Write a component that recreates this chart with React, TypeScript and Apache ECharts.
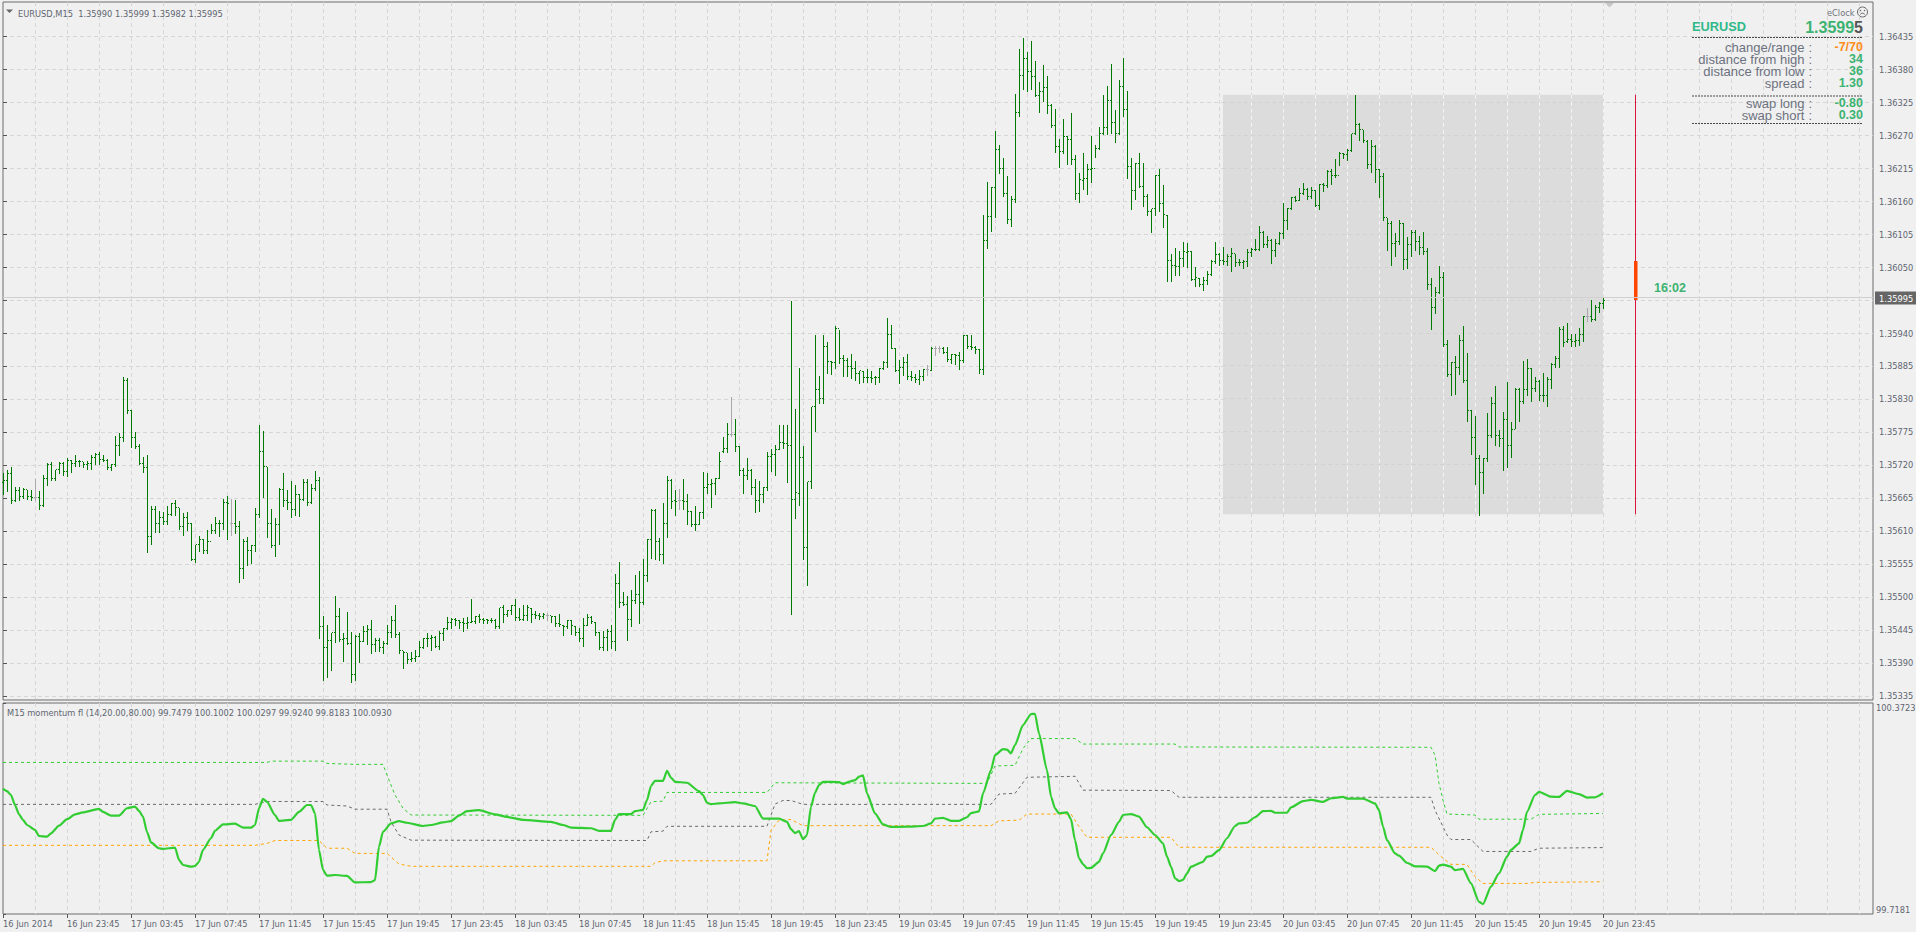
import React, { useEffect, useRef } from "react";
import * as echarts from "echarts";

// Prices are stored as points (1e-5) above basePrice.
const basePrice = 1.35;
const priceTicks = [1.36435,1.3638,1.36325,1.3627,1.36215,1.3616,1.36105,1.3605,1.35995,1.3594,1.35885,1.3583,1.35775,1.3572,1.35665,1.3561,1.35555,1.355,1.35445,1.3539,1.35335];
const momentumTicks = [99.7181, 100.3723];
const timeLabels = ["16 Jun 2014","16 Jun 23:45","17 Jun 03:45","17 Jun 07:45","17 Jun 11:45","17 Jun 15:45","17 Jun 19:45","17 Jun 23:45","18 Jun 03:45","18 Jun 07:45","18 Jun 11:45","18 Jun 15:45","18 Jun 19:45","18 Jun 23:45","19 Jun 03:45","19 Jun 07:45","19 Jun 11:45","19 Jun 15:45","19 Jun 19:45","19 Jun 23:45","20 Jun 03:45","20 Jun 07:45","20 Jun 11:45","20 Jun 15:45","20 Jun 19:45","20 Jun 23:45"];

const opens = [
690,694,706,660,677,667,679,667,666,666,
652,698,721,697,712,723,709,728,722,726,
725,720,722,733,737,729,728,715,721,752,
765,860,811,765,750,722,715,600,646,622,
633,625,637,656,649,617,632,623,563,587,
596,577,592,610,623,622,658,623,623,617,
548,592,577,586,637,743,717,622,585,620,
679,661,657,646,670,662,691,658,680,694,
450,415,427,440,467,429,430,423,370,434,
426,443,445,421,427,415,422,440,461,437,
410,407,396,398,400,415,430,431,433,417,
439,447,457,463,461,458,456,458,459,468,
463,462,460,461,450,482,471,477,486,466,
462,469,481,471,469,467,469,469,467,456,
453,451,461,451,441,430,453,465,458,440,
416,433,442,425,522,490,487,463,494,504,
490,536,596,644,593,571,622,694,660,661,
661,659,642,620,621,640,683,687,689,698,
742,747,771,771,751,711,702,711,683,661,
671,682,734,738,746,757,755,752,662,672,
732,582,692,817,845,830,917,892,891,947,
898,894,884,880,872,876,866,865,865,866,
880,890,937,915,877,883,890,867,865,863,
868,879,878,914,914,914,908,895,904,902,
894,936,918,916,912,879,1094,1134,1182,1246,
1215,1173,1129,1162,1307,1369,1397,1376,1368,1336,
1342,1350,1319,1286,1251,1242,1267,1263,1230,1172,
1195,1197,1212,1215,1248,1272,1282,1328,1291,1273,
1351,1312,1217,1178,1223,1184,1168,1143,1147,1202,
1156,1136,1061,1052,1051,1065,1075,1076,1029,1031,
1021,1028,1038,1059,1071,1061,1059,1067,1072,1058,
1057,1060,1075,1079,1080,1108,1087,1095,1077,1089,
1106,1127,1148,1166,1161,1173,1180,1167,1177,1152,
1188,1186,1210,1203,1202,1239,1237,1244,1272,1288,
1279,1260,1221,1251,1212,1201,1132,1123,1090,1093,
1123,1062,1087,1107,1092,1082,1076,1021,982,1008,
1032,921,871,891,882,927,861,811,765,730,
708,731,769,823,769,764,795,752,779,846,
826,846,881,847,859,836,835,862,887,898,
946,926,930,926,927,938,968,967,963,983,990];

const highs = [
707,712,717,684,683,681,679,678,696,677,
703,723,725,712,725,725,731,728,737,728,
725,727,736,740,742,737,730,722,769,773,
867,865,812,775,755,733,736,651,652,644,
642,651,657,662,649,640,642,623,587,602,
597,611,621,634,628,664,668,664,662,627,
597,600,587,648,786,777,717,647,631,682,
706,679,694,687,671,697,697,689,710,700,
469,454,440,502,481,440,475,441,437,440,
451,454,461,432,432,426,454,469,486,442,
410,407,409,411,427,432,440,436,435,444,
448,467,465,465,461,465,467,496,468,471,
465,463,465,463,482,486,479,486,496,482,
486,486,482,476,473,473,473,469,468,472,
454,462,462,451,448,465,472,468,459,441,
443,447,454,538,559,508,501,512,536,544,
563,596,647,647,598,657,701,697,678,680,
696,671,643,652,641,708,707,696,698,742,
767,790,833,797,752,715,732,713,697,694,
684,742,747,754,787,786,787,993,814,882,
751,692,817,937,868,937,925,893,952,945,
904,898,905,893,877,877,880,876,868,882,
893,965,954,915,895,900,905,876,871,879,
880,887,917,918,918,917,917,905,905,908,
936,936,937,918,913,1137,1192,1183,1277,1254,
1231,1202,1169,1339,1414,1431,1408,1427,1394,1359,
1387,1368,1322,1314,1264,1296,1268,1306,1237,1206,
1240,1222,1268,1254,1283,1336,1352,1389,1312,1361,
1398,1344,1232,1223,1240,1223,1172,1147,1203,1214,
1186,1137,1071,1081,1077,1092,1090,1077,1050,1032,
1033,1043,1061,1092,1073,1084,1072,1082,1072,1064,
1062,1080,1082,1096,1119,1110,1102,1096,1097,1108,
1157,1149,1167,1168,1182,1190,1182,1183,1179,1189,
1190,1212,1213,1230,1242,1240,1246,1272,1337,1290,
1279,1261,1261,1253,1213,1207,1132,1126,1107,1128,
1124,1100,1112,1112,1102,1109,1082,1032,1017,1052,
1042,929,892,902,936,952,906,812,801,736,
732,806,833,852,779,808,858,792,848,849,
894,896,881,867,862,873,867,890,901,950,
952,956,939,939,949,968,982,995,986,992,999];

const lows = [
672,676,656,660,662,665,663,661,662,646,
651,686,695,695,706,703,702,708,719,718,
716,714,714,721,721,726,714,711,718,736,
760,807,750,748,721,709,575,589,608,609,
621,621,636,637,614,604,612,562,558,576,
573,573,607,607,601,614,596,604,606,525,
532,554,557,576,633,666,600,583,568,589,
651,646,633,637,635,661,653,657,678,432,
361,366,379,425,426,393,421,358,361,391,
426,421,407,410,410,406,421,434,434,406,
381,390,393,393,401,415,418,411,417,413,
429,446,448,454,448,444,448,458,457,459,
457,456,458,448,448,459,469,471,462,461,
461,462,459,465,463,465,462,458,452,452,
437,448,439,437,426,419,454,457,437,413,
412,411,415,411,484,487,429,452,490,456,
489,527,565,563,561,556,600,648,636,646,
647,622,618,611,621,632,673,650,672,698,
741,741,768,744,704,674,696,671,641,644,
659,679,710,704,746,748,691,472,632,654,
563,520,682,777,823,823,873,872,882,890,
869,868,865,862,857,859,859,859,855,859,
880,884,915,876,857,870,864,862,859,855,
862,870,878,904,908,907,893,890,888,880,
891,915,914,906,874,872,1081,1110,1134,1206,
1169,1124,1119,1159,1301,1346,1343,1347,1335,1309,
1326,1306,1283,1241,1216,1240,1221,1221,1164,1159,
1180,1172,1192,1234,1247,1272,1272,1273,1258,1272,
1302,1199,1147,1164,1183,1151,1136,1108,1136,1143,
1116,1026,1026,1036,1036,1051,1050,1028,1018,1018,
1011,1021,1036,1057,1054,1055,1054,1043,1051,1053,
1049,1052,1069,1078,1079,1084,1083,1056,1068,1088,
1099,1114,1147,1160,1162,1172,1164,1165,1151,1147,
1176,1184,1189,1200,1220,1232,1228,1243,1271,1262,
1259,1215,1209,1191,1166,1128,1079,1053,1069,1089,
1047,1049,1069,1079,1071,1071,1014,947,974,1007,
919,869,836,838,872,859,794,738,689,637,
674,726,766,754,751,712,717,733,782,794,
824,837,826,843,829,826,819,849,883,883,
918,925,919,918,920,926,960,960,962,975,982];

const closes = [
694,706,660,677,667,679,667,666,666,652,
698,721,697,712,723,709,728,722,726,725,
720,722,733,737,729,728,715,721,752,765,
860,811,765,750,722,715,600,646,622,633,
625,637,656,649,617,632,623,563,587,596,
577,592,610,623,622,658,656,623,617,548,
592,577,586,637,743,717,622,585,620,679,
661,657,646,670,662,691,658,680,694,450,
415,427,440,467,429,430,423,370,434,426,
443,445,421,427,415,422,440,461,437,410,
407,396,398,400,415,430,431,433,417,439,
447,457,463,461,458,456,458,459,468,463,
461,461,461,450,482,471,477,486,466,462,
469,482,471,469,467,471,469,467,456,454,
451,461,452,441,430,453,465,459,440,416,
433,442,425,522,490,487,463,494,504,490,
536,596,644,593,571,622,694,659,659,661,
659,642,620,621,640,683,687,689,698,725,
747,771,771,751,711,702,711,683,661,671,
682,734,738,746,757,755,752,662,674,732,
582,692,817,845,830,917,892,891,947,898,
894,884,880,872,877,865,865,864,866,880,
890,937,915,877,883,890,867,865,863,868,
879,879,914,914,914,908,895,904,902,894,
936,918,916,913,879,1094,1134,1182,1246,1215,
1173,1129,1162,1307,1369,1397,1376,1368,1336,1342,
1350,1319,1286,1251,1242,1267,1263,1230,1172,1196,
1197,1212,1215,1248,1272,1282,1328,1291,1272,1351,
1312,1217,1178,1223,1184,1168,1143,1147,1202,1156,
1137,1061,1052,1051,1065,1076,1076,1029,1032,1021,
1028,1038,1059,1071,1061,1059,1067,1072,1057,1057,
1060,1075,1079,1080,1108,1087,1095,1077,1089,1106,
1127,1148,1166,1161,1172,1180,1167,1177,1152,1188,
1186,1210,1203,1202,1239,1237,1244,1272,1288,1279,
1261,1221,1251,1212,1201,1132,1123,1090,1093,1123,
1062,1087,1107,1092,1082,1076,1021,982,1007,1032,
921,871,891,882,927,861,811,765,730,708,
731,769,823,769,764,795,752,779,846,826,
846,881,847,859,836,835,862,887,898,946,
925,930,926,927,938,968,968,963,983,990,995];

const neutralBars = [8,57,136,169,182,231,233,234,396];

// Indicator: [bar index, value].
const momentumLine = [
[0,100.1065],[1,100.099],[2,100.087],[3,100.056],[4,100.027],[5,100.01],[6,99.994],[8,99.979],[9,99.96],[11,99.958],[12,99.968],[14,99.992],[16,100.012],[18,100.027],[20,100.033],[24,100.044],[25,100.035],[27,100.023],[29,100.023],[31,100.046],[33,100.051],[34,100.038],[35,100.02],[36,99.973],[37,99.94],[39,99.922],[40,99.92],[43,99.924],[44,99.886],[45,99.87],[47,99.865],[48,99.867],[49,99.88],[50,99.917],[52,99.953],[53,99.976],[55,99.996],[58,99.998],[60,99.986],[62,99.986],[63,99.994],[64,100.046],[65,100.075],[66,100.066],[68,100.025],[69,100.007],[72,100.01],[74,100.035],[76,100.056],[77,100.056],[78,100.03],[79,99.917],[80,99.855],[81,99.837],[83,99.839],[86,99.836],[88,99.816],[92,99.817],[93,99.823],[94,99.927],[95,99.973],[97,99.999],[99,100.006],[101,100.001],[105,99.991],[107,99.994],[110,100.002],[112,100.006],[114,100.023],[116,100.037],[119,100.04],[123,100.027],[126,100.019],[130,100.01],[137,100.004],[140,99.994],[142,99.986],[147,99.984],[149,99.976],[152,99.976],[153,100.01],[154,100.028],[157,100.028],[158,100.037],
[160,100.041],[161,100.071],[162,100.115],[163,100.131],[165,100.131],[166,100.162],[167,100.141],[168,100.128],[171,100.125],[174,100.099],[175,100.087],[176,100.063],[177,100.059],[179,100.061],[183,100.065],[185,100.061],[188,100.053],[190,100.014],[194,100.014],[196,100.004],[197,99.981],[198,99.969],[199,99.975],[200,99.95],[201,99.963],[202,100.051],[203,100.094],[204,100.118],[205,100.128],[209,100.127],[210,100.121],[212,100.13],[213,100.133],[214,100.144],[215,100.148],[216,100.092],[218,100.03],[220,99.996],[222,99.988],[226,99.989],[230,99.991],[232,99.999],[233,100.014],[235,100.016],[237,100.007],[239,100.007],[241,100.018],[242,100.031],[244,100.036],[245,100.092],[247,100.164],[248,100.211],[250,100.229],[251,100.228],[252,100.216],[253,100.242],[255,100.304],[257,100.338],[258,100.339],[259,100.278],[261,100.164],[262,100.082],[263,100.046],[264,100.03],
[266,100.033],[267,100.012],[268,99.947],[269,99.891],[270,99.873],[271,99.86],[272,99.861],[274,99.88],[275,99.906],[277,99.963],[279,100.004],[280,100.025],[282,100.028],[284,100.02],[286,99.987],[288,99.963],[290,99.937],[291,99.896],[292,99.865],[293,99.829],[294,99.82],[295,99.824],[296,99.844],[297,99.865],[300,99.88],[301,99.896],[302,99.898],[304,99.916],[306,99.953],[308,99.991],[309,99.999],[311,100.001],[313,100.018],[315,100.037],[317,100.038],[318,100.032],[321,100.032],[322,100.049],[325,100.068],[327,100.072],[330,100.066],[332,100.077],[335,100.081],[336,100.076],[340,100.076],[343,100.061],[344,100.04],[345,99.989],[346,99.947],[348,99.906],[349,99.899],[351,99.877],[353,99.866],[356,99.865],[358,99.851],[359,99.868],[360,99.871],[362,99.865],[363,99.854],[365,99.858],[367,99.813],[369,99.756],[370,99.749],[372,99.803],[374,99.844],[376,99.896],[377,99.917],[379,99.937],[380,99.979],[381,100.035],[383,100.087],[384,100.097],[387,100.082],[389,100.081],[391,100.1],[394,100.09],[396,100.079],[398,100.08],[400,100.093]];

const upperBand = [[0,100.188],[66,100.188],[67,100.192],[80,100.192],[81,100.185],[88,100.182],[95,100.182],[96,100.149],[98,100.087],[100,100.046],[102,100.025],[160,100.024],[162,100.066],[165,100.068],[166,100.095],[191,100.095],[193,100.125],[246,100.123],[248,100.177],[253,100.179],[255,100.231],[257,100.262],[268,100.262],[270,100.245],[293,100.245],[294,100.236],[357,100.235],[358,100.211],[359,100.123],[360,100.071],[361,100.028],[368,100.025],[369,100.012],[382,100.012],[384,100.027],[400,100.03]];
const middleBand = [[0,100.058],[63,100.058],[66,100.067],[80,100.067],[81,100.056],[86,100.053],[88,100.043],[96,100.043],[97,100.004],[99,99.963],[102,99.947],[161,99.946],[162,99.973],[165,99.975],[166,99.99],[191,99.99],[193,100.059],[195,100.07],[197,100.07],[200,100.058],[247,100.058],[249,100.09],[253,100.092],[256,100.142],[268,100.145],[270,100.102],[292,100.101],[294,100.08],[357,100.08],[358,100.04],[361,99.963],[362,99.949],[367,99.949],[370,99.912],[382,99.912],[384,99.922],[400,99.924]];
const lowerBand = [[0,99.931],[63,99.931],[66,99.937],[68,99.946],[79,99.946],[81,99.922],[86,99.922],[88,99.906],[96,99.906],[99,99.873],[102,99.866],[162,99.866],[163,99.877],[165,99.883],[191,99.883],[192,99.978],[194,100.009],[197,100.011],[200,99.992],[247,99.992],[249,100.007],[254,100.009],[256,100.028],[267,100.028],[269,99.989],[271,99.956],[292,99.956],[294,99.925],[357,99.925],[360,99.891],[362,99.872],[366,99.872],[368,99.834],[370,99.813],[381,99.813],[383,99.816],[400,99.818]];

const rangeBox = { from: 305, to: 400, high: 1337, low: 638 };
const countdownBar = { at: 408, high: 1337, low: 638, open: 1060, close: 995 };
const lastPrice = 995;

const infoRows = [
  ["change/range", "-7/70", "#ff8c1a", 47],
  ["distance from high", "34", "#3cb371", 59],
  ["distance from low", "36", "#3cb371", 71],
  ["spread", "1.30", "#3cb371", 83],
  ["swap long", "-0.80", "#3cb371", 103],
  ["swap short", "0.30", "#3cb371", 115],
] as const;

const price = (p: number) => basePrice + p / 1e5;
const snap = (v: number) => Math.round(v - 0.5) + 0.5;
const AXIS_TEXT = "#5f6670";
const SMALL = '"DejaVu Sans Condensed","Liberation Sans",sans-serif';
const SMALL_SIZE = 9.2;
const ARIAL = '"Liberation Sans",Arial,sans-serif';
const GRID_DASH = { color: "#d6d6d6", width: 1, type: [4, 3] as number[] };

function renderBar(params: any, api: any) {
  const i = api.value(0);
  const x = snap(api.coord([i, price(api.value(2))])[0] + 0.5);
  const yO = snap(api.coord([i, price(api.value(1))])[1]);
  const yH = Math.round(api.coord([i, price(api.value(2))])[1]);
  const yL = Math.round(api.coord([i, price(api.value(3))])[1]) + 1;
  const yC = snap(api.coord([i, price(api.value(4))])[1]);
  const color = neutralBars.includes(i) ? "#a9a9a9" : "#007a00";
  const style = { stroke: color, lineWidth: 1 };
  return {
    type: "group",
    children: [
      { type: "line", shape: { x1: x, y1: yH, x2: x, y2: yL }, style },
      { type: "line", shape: { x1: x - 1.5, y1: yO, x2: x - 0.5, y2: yO }, style },
      { type: "line", shape: { x1: x + 0.5, y1: yC, x2: x + 1.5, y2: yC }, style },
    ],
  };
}

function renderBox(params: any, api: any) {
  const [x1, yT] = api.coord([rangeBox.from, price(rangeBox.high)]);
  const [x2, yB] = api.coord([rangeBox.to, price(rangeBox.low)]);
  const children: any[] = [
    { type: "rect", shape: { x: x1, y: yT, width: x2 - x1 + 1, height: yB - yT }, style: { fill: "#dcdcdc" } },
  ];
  for (const t of priceTicks) {
    const y = api.coord([0, t])[1];
    if (y > yT && y < yB) {
      children.push({ type: "line", shape: { x1, y1: snap(y), x2: x2 + 1, y2: snap(y) }, style: { stroke: "#d2d2d2", lineWidth: 1, lineDash: [4, 3] } });
    }
  }
  for (let i = 8 * Math.ceil(rangeBox.from / 8); i <= rangeBox.to; i += 8) {
    const x = snap(api.coord([i, 0])[0] + 0.5);
    children.push({ type: "line", shape: { x1: x, y1: yT, x2: x, y2: yB }, style: { stroke: "#f4f4f4", lineWidth: 1, lineDash: [4, 3] } });
  }
  return { type: "group", children };
}

function renderCountdown(params: any, api: any) {
  const [x, yT] = api.coord([countdownBar.at, price(countdownBar.high)]);
  const yB = api.coord([countdownBar.at, price(countdownBar.low)])[1];
  const yO = api.coord([countdownBar.at, price(countdownBar.open)])[1];
  const yC = api.coord([countdownBar.at, price(countdownBar.close)])[1];
  return {
    type: "group",
    children: [
      { type: "line", shape: { x1: x + 0.5, y1: yT, x2: x + 0.5, y2: yB }, style: { stroke: "#dc143c", lineWidth: 1 } },
      { type: "rect", shape: { x: x - 1, y: yO, width: 3.5, height: yC - yO }, style: { fill: "#ff4500" } },
    ],
  };
}

function buildOption() {
  const barRows = closes.map((c, i) => [i, opens[i], highs[i], lows[i], c]);
  const timeTickValues = timeLabels.map((_, k) => k * 16);

  const splitAxis = (gridIndex: number) => ({
    type: "value", gridIndex, position: "bottom", min: 0, max: 467.5, interval: 8,
    axisLine: { show: false }, axisTick: { show: false }, axisLabel: { show: false },
    splitLine: { show: true, showMinLine: false, showMaxLine: false, lineStyle: GRID_DASH },
  });

  const text = (t: string, x: number, y: number, fill: string, font: string, align = "left") => ({
    type: "text", silent: true, z: 20,
    style: { text: t, x, y, fill, font, textAlign: align, textVerticalAlign: "middle" },
  });
  const rule = (y: number) => ({
    type: "line", silent: true, z: 20,
    shape: { x1: 1692, y1: y, x2: 1863, y2: y },
    style: { stroke: "#4a4a4a", lineWidth: 1, lineDash: [2, 1] },
  });

  const graphic: any[] = [
    { type: "polygon", silent: true, shape: { points: [[6, 9.5], [13, 9.5], [9.5, 13]] }, style: { fill: "#666" } },
    { type: "polygon", silent: true, shape: { points: [[1605, 3], [1614, 3], [1609.5, 7.5]] }, style: { fill: "#c8c8c8" } },
    text("EURUSD,M15  1.35990 1.35999 1.35982 1.35995", 18, 13.5, AXIS_TEXT, `${SMALL_SIZE}px ${SMALL}`),
    text("M15 momentum fl (14,20.00,80.00) 99.7479 100.1002 100.0297 99.9240 99.8183 100.0930", 7, 712, AXIS_TEXT, `${SMALL_SIZE}px ${SMALL}`),
    text("eClock", 1827, 12, "#6f7480", `${SMALL_SIZE}px ${SMALL}`),
    { type: "circle", silent: true, shape: { cx: 1862.5, cy: 12, r: 5 }, style: { fill: "none", stroke: "#666", lineWidth: 1 } },
    { type: "circle", silent: true, shape: { cx: 1860.5, cy: 10.5, r: 0.7 }, style: { fill: "#666" } },
    { type: "circle", silent: true, shape: { cx: 1864.5, cy: 10.5, r: 0.7 }, style: { fill: "#666" } },
    { type: "arc", silent: true, shape: { cx: 1862.5, cy: 16, r: 2.8, startAngle: Math.PI * 1.2, endAngle: Math.PI * 1.8 }, style: { fill: "none", stroke: "#666", lineWidth: 1 } },
    text("EURUSD", 1692, 26, "#2fb98a", `bold 12.8px ${ARIAL}`),
    {
      type: "text", silent: true, z: 20,
      style: {
        text: "{a|1.3599}{b|5}", x: 1863, y: 27, textAlign: "right", textVerticalAlign: "middle",
        rich: {
          a: { fill: "#3cb371", font: `bold 16px ${ARIAL}` },
          b: { fill: "#555", font: `bold 16px ${ARIAL}` },
        },
      },
    },
    rule(37.5), rule(96), rule(123.5),
    text("16:02", 1654, 288, "#3cb371", `bold 12.5px ${ARIAL}`),
  ];
  for (const [label, value, color, y] of infoRows) {
    graphic.push(text(label, 1804.5, y, "#6d7280", `13px ${ARIAL}`, "right"));
    graphic.push(text(":", 1812, y, "#6d7280", `13px ${ARIAL}`, "right"));
    graphic.push(text(value, 1863, y, color, `bold 12.5px ${ARIAL}`, "right"));
  }

  return {
    animation: false,
    backgroundColor: "#f0f0f0",
    grid: [
      { left: 3, top: 2, width: 1870, height: 698, show: true, borderColor: "#6c6c6c", borderWidth: 1, backgroundColor: "transparent", outerBoundsMode: "none", containLabel: false },
      { left: 3, top: 703, width: 1870, height: 211, show: true, borderColor: "#6c6c6c", borderWidth: 1, backgroundColor: "transparent", outerBoundsMode: "none", containLabel: false },
    ],
    xAxis: [
      splitAxis(0),
      splitAxis(1),
      {
        type: "value", gridIndex: 1, position: "bottom", min: 0, max: 467.5,
        axisLine: { show: false },
        axisTick: { show: true, length: 4, customValues: timeTickValues, lineStyle: { color: "#555" } },
        axisLabel: {
          show: true, customValues: timeTickValues, align: "left", margin: 5, hideOverlap: false,
          color: AXIS_TEXT, fontSize: SMALL_SIZE, fontFamily: SMALL,
          formatter: (v: number) => timeLabels[Math.round(v / 16)] ?? "",
        },
        splitLine: { show: false },
      },
    ],
    yAxis: [
      {
        type: "value", gridIndex: 0, position: "right", min: 1.353283, max: 1.364917, scale: true,
        axisLine: { show: false },
        axisTick: { show: true, length: 4, customValues: priceTicks, lineStyle: { color: "#555" } },
        axisLabel: {
          show: true, customValues: priceTicks, margin: 6, color: AXIS_TEXT, fontSize: SMALL_SIZE, fontFamily: SMALL,
          formatter: (v: number) => v.toFixed(5),
        },
        splitLine: { show: true, lineStyle: GRID_DASH },
      },
      {
        type: "value", gridIndex: 1, position: "right", min: 99.7181, max: 100.3723, scale: true,
        axisLine: { show: false },
        axisTick: { show: true, length: 3, customValues: momentumTicks, lineStyle: { color: "#555" } },
        axisLabel: {
          show: true, customValues: momentumTicks, margin: 3, color: AXIS_TEXT, fontSize: SMALL_SIZE, fontFamily: SMALL,
          verticalAlignMinLabel: "bottom", verticalAlignMaxLabel: "top", showMinLabel: true, showMaxLabel: true,
          formatter: (v: number) => v.toFixed(4),
        },
        splitLine: { show: false },
      },
    ],
    graphic,
    series: [
      {
        type: "custom", name: "range", xAxisIndex: 0, yAxisIndex: 0, z: 1, silent: true,
        clip: false, data: [[rangeBox.from, price(rangeBox.high)]], renderItem: renderBox,
      },
      {
        type: "line", name: "last", xAxisIndex: 0, yAxisIndex: 0, z: 2, silent: true, data: [],
        markLine: {
          silent: true, symbol: "none", animation: false,
          lineStyle: { color: "#d0d0d0", type: "solid", width: 1 },
          label: {
            position: "end", distance: 2, offset: [0, 1], formatter: () => price(lastPrice).toFixed(5),
            color: "#fff", backgroundColor: "#666", padding: [2, 4, 2, 4], fontSize: SMALL_SIZE, fontFamily: SMALL,
          },
          data: [{ yAxis: price(lastPrice) }],
        },
      },
      {
        type: "custom", name: "EURUSD,M15", xAxisIndex: 0, yAxisIndex: 0, z: 3, silent: true,
        encode: { x: 0, y: [1, 2, 3, 4] }, data: barRows, renderItem: renderBar,
      },
      {
        type: "custom", name: "countdown", xAxisIndex: 0, yAxisIndex: 0, z: 4, silent: true,
        data: [[countdownBar.at, price(countdownBar.close)]], renderItem: renderCountdown,
      },
      ...([
        ["upper", upperBand, "#32cd32"],
        ["middle", middleBand, "#696969"],
        ["lower", lowerBand, "#ffa500"],
      ] as const).map(([name, data, color]) => ({
        type: "line", name, xAxisIndex: 1, yAxisIndex: 1, z: 3, silent: true, showSymbol: false,
        data, lineStyle: { color, width: 1, type: [3, 3] },
      })),
      {
        type: "line", name: "momentum", xAxisIndex: 1, yAxisIndex: 1, z: 4, silent: true, showSymbol: false,
        data: momentumLine, smooth: 0.2, smoothMonotone: "x",
        lineStyle: { color: "#32cd32", width: 2.2 },
      },
    ],
  };
}

export default function App() {
  const ref = useRef<HTMLDivElement>(null);
  useEffect(() => {
    document.body.style.margin = "0";
    document.body.style.background = "#f0f0f0";
    const chart = echarts.init(ref.current!, undefined, { renderer: "svg" });
    chart.setOption(buildOption() as any);
    return () => chart.dispose();
  }, []);
  return <div ref={ref} style={{ width: 1916, height: 932 }} />;
}
